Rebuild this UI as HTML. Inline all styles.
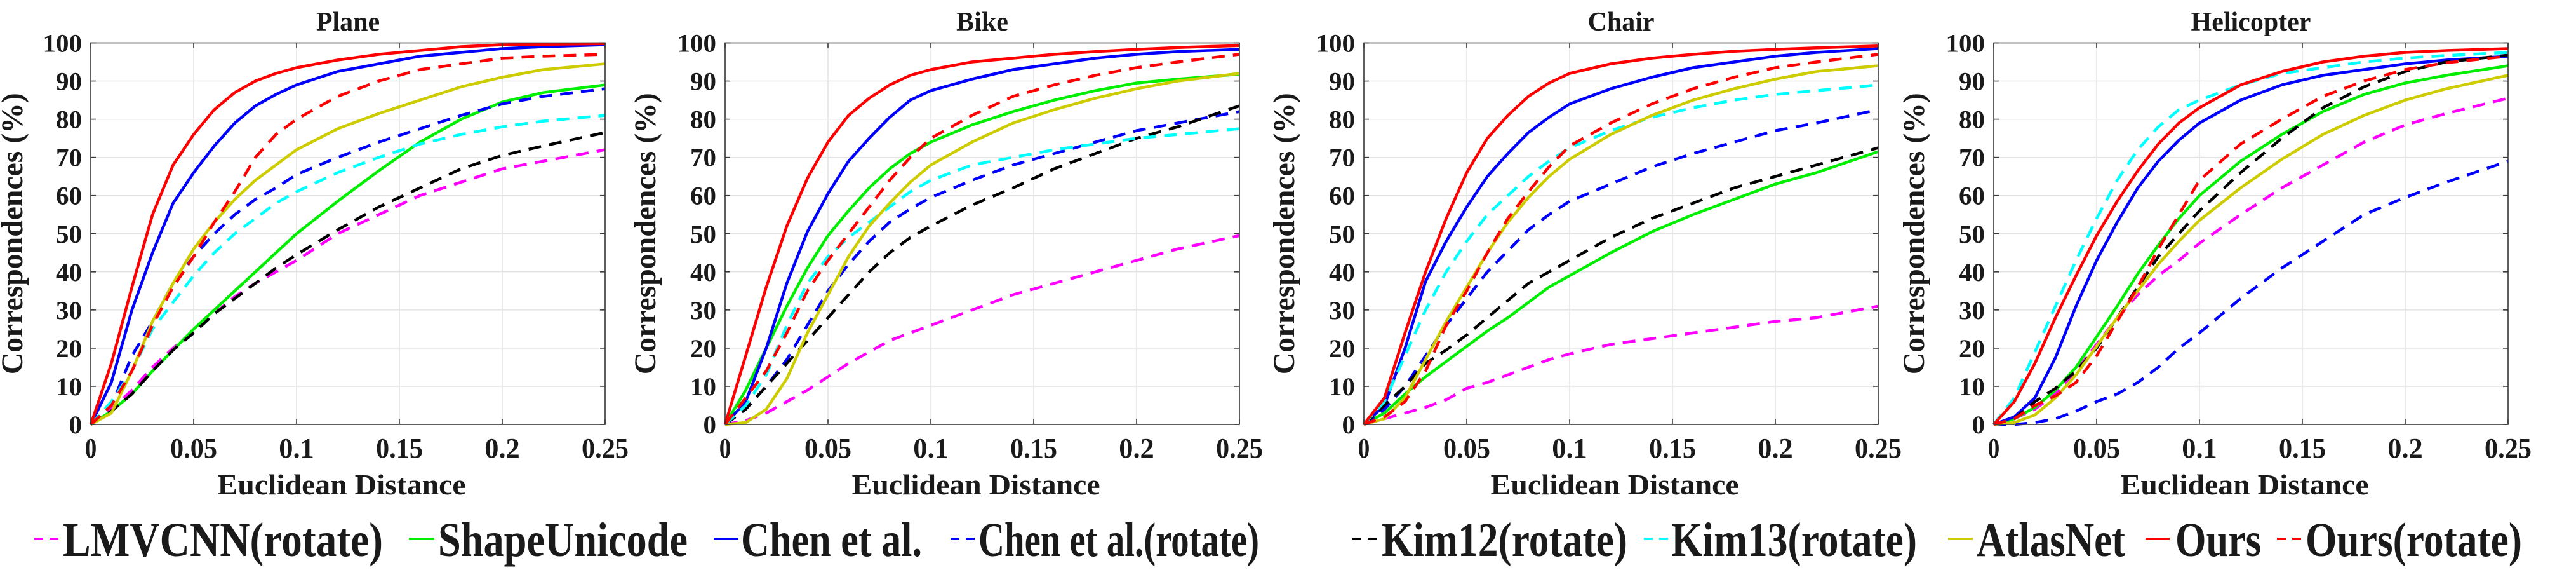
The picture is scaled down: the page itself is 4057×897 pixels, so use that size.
<!DOCTYPE html>
<html><head><meta charset="utf-8"><style>
html,body{margin:0;padding:0;background:#fff;}
svg{display:block;}
svg text{font-family:"Liberation Serif","Times New Roman",serif;font-weight:bold;fill:#1a1a1a;}
</style></head><body>
<svg id="fig" width="4057" height="897" viewBox="0 0 4057 897" xmlns="http://www.w3.org/2000/svg" font-family="Liberation Serif, serif" font-weight="bold"></svg>
<script>
const xVals=[0,0.01,0.02,0.03,0.04,0.05,0.06,0.07,0.08,0.09,0.10,0.12,0.14,0.16,0.18,0.20,0.22,0.25];
const xTicks=[0,0.05,0.1,0.15,0.2,0.25];
const xTickLabels=["0","0.05","0.1","0.15","0.2","0.25"];
const yTicks=[0,10,20,30,40,50,60,70,80,90,100];
const panelTitles=["Plane","Bike","Chair","Helicopter"];
const seriesNames=["LMVCNN(rotate)","ShapeUnicode","Chen et al.","Chen et al.(rotate)","Kim12(rotate)","Kim13(rotate)","AtlasNet","Ours","Ours(rotate)"];
const planeLMVCNN=[0,4,9,15,20,24.5,29,33.5,37,40,43,50,55,60,63.5,67,69,72];
const planeShape=[0,3.5,8,14,19.5,25,30,35,40,45,50,58.5,66.5,74,80,84.5,87,89];
const planeChen=[0,11,30,45,58,66,73,79,83.5,86.5,89,92.5,94.5,96.5,97.5,98.5,99,99.5];
const planeChenRot=[0,5,18,27,37,44,50,55,59,62,65.5,70,74,77.5,81,84,86,88];
const planeKim12=[0,3.5,8,14,19.5,24,29,33,37,41,44.5,51,57,62,67,70.5,73,76.5];
const planeKim13=[0,6,14,25,32,39,45,50,54,58,61,66,70,73.5,76,78,79.5,81];
const planeAtlas=[0,3,14,27,37,46,53,59,64,68,72,77.5,81.5,85,88.5,91,93,94.5];
const planeOurs=[0,16,36,55,68,76,82.5,87,90,92,93.5,95.5,97,98,99,99.5,99.6,99.8];
const planeOursRot=[0,5,14,26,36,44,53,61,70,76,80,86,90,93,94.5,96,96.5,97];
const bikeLMVCNN=[0,1,3,6,9,12.5,16,19,22,24,26,30,34,37,40,43,46,49.5];
const bikeShape=[0,9,20,31,41,49.5,56,62,67,71,74,78.5,82,85,87.5,89.5,90.5,91.8];
const bikeChen=[0,6,20,37,50.5,60.5,69,75,80.5,85,87.5,90.5,93,94.5,96,97,97.7,98.3];
const bikeChenRot=[0,4,10,17,26,35,42,48,53,56.5,59.5,64,68,71,74,77,79,82];
const bikeKim12=[0,4,10,16,22,28,34,40,45,49,52,57.5,62,67,71,75,78,83.5];
const bikeKim13=[0,5,13,26,37,44,49,53,57,61,64,68,70,72,73.5,75,76,77.5];
const bikeAtlas=[0,0.5,4,12,24,34,44,52,58,63.5,68,74,79,82.5,85.5,88,90,92];
const bikeOurs=[0,18,36,52,64.5,74,81,85.5,89,91.5,93,95,96,97,97.7,98.3,98.8,99.3];
const bikeOursRot=[0,7,14,24,35,43,50,57,64,70,75,81,86,89,91.5,93.5,95,97];
const chairLMVCNN=[0,1.5,3,4.5,6.5,9.5,11,13,15,17,18.5,21,22.5,24,25.5,27,28,31];
const chairShape=[0,3,8,12.5,16.5,20.5,24.5,28,32,36,39,45,50.5,55,59,63,66,71.5];
const chairChen=[0,5,20,37.5,48,57,65,71,76.5,80.5,84,88,91,93.5,95,96.5,97.5,98.5];
const chairChenRot=[0,4,10,18,26,33,40,45.5,51,55,58.5,63,67.5,71,74,77,79,82.5];
const chairKim12=[0,5,10,16,19.5,23.5,28,32.5,37,40,43,49,54,58,62,65,68,72.5];
const chairKim13=[0,6,18,30,40,48,55,60,65,69,72.5,77,80.5,83,85,86.5,87.5,89];
const chairAtlas=[0,1.5,7,17,27,36,45,53,59.5,65,69.5,76,81,85,88,90.5,92.5,94];
const chairOurs=[0,7,24,40,54,66,75,81,86,89.5,92,94.5,96,97,97.8,98.3,98.7,99.2];
const chairOursRot=[0,2,6,14,26,35,45,54,61,67.5,73,79,84,88,91,93.5,95,97];
const heliLMVCNN=[0,1.5,4,8,14,21,28,34,39,43,47.5,55,62,68,74,78.5,81.5,85.5];
const heliShape=[0,1.5,4.5,9,15,23,31,39.5,47,54,60,69,76,82,86.5,89.5,91.5,94];
const heliChen=[0,2,7,17.5,31,43,53,62,69,74.5,79,85,89,91.5,93,94.5,95.5,96.5];
const heliChenRot=[0,0,0.5,1.5,3.5,6,8,11,15,20,24,33,41,48,55,59.5,63.5,69];
const heliKim12=[0,1.5,6,9.5,14,20,28,36,44,50,56,66,75,83,88.5,92.5,95,96.8];
const heliKim13=[0,7,19,31,43,54,64,72,78,82.5,85,89,92,93.5,95,96,96.7,97.5];
const heliAtlas=[0,0.5,2.5,7,13,20.5,28,35,42,48,53.5,62,69.5,76,81,85,88,91.5];
const heliOurs=[0,6,16,28,39,49.5,58.5,66.5,73.5,79,83,89,92.5,95,96.5,97.5,98,98.5];
const heliOursRot=[0,1.5,5,7.5,11,18,27,36,46,55,64,73.5,80,86,90,93,94.8,96.5];

const panelData=[
 [planeLMVCNN,planeShape,planeChen,planeChenRot,planeKim12,planeKim13,planeAtlas,planeOurs,planeOursRot],
 [bikeLMVCNN,bikeShape,bikeChen,bikeChenRot,bikeKim12,bikeKim13,bikeAtlas,bikeOurs,bikeOursRot],
 [chairLMVCNN,chairShape,chairChen,chairChenRot,chairKim12,chairKim13,chairAtlas,chairOurs,chairOursRot],
 [heliLMVCNN,heliShape,heliChen,heliChenRot,heliKim12,heliKim13,heliAtlas,heliOurs,heliOursRot]
];
const colors=["#ff00ff","#00ee00","#0000ff","#0000ff","#000000","#00ffff","#cccc00","#ff0000","#ff0000"];
const dashed=[true,false,false,true,true,true,false,false,true];
const panelLeft=[143,1142,2148,3140];
const PW=810, PT=67.5, PB=668;
const NS="http://www.w3.org/2000/svg";
const FF="Liberation Serif, Times New Roman, serif";
const svg=document.getElementById('fig');
function mk(tag,attrs,parent){const e=document.createElementNS(NS,tag);for(const k in attrs)e.setAttribute(k,attrs[k]);if(tag==='text'){e.setAttribute('font-family',FF);e.setAttribute('font-weight','bold');}(parent||svg).appendChild(e);return e;}

panelTitles.forEach((title,p)=>{
  const L=panelLeft[p], R=L+PW;
  const sx=v=>L+v/0.25*PW;
  const sy=v=>PB-v/100*(PB-PT);
  const g=mk('g',{});
  
  
  mk('rect',{x:L,y:PT,width:PW,height:PB-PT,fill:'#fff'},g);
  xTicks.forEach(t=>{const l=mk('line',{x1:sx(t),x2:sx(t),y1:PT,y2:PB,stroke:'#e3e3e3','stroke-width':1.5},g);
    });
  yTicks.forEach(t=>{const l=mk('line',{x1:L,x2:R,y1:sy(t),y2:sy(t),stroke:'#e3e3e3','stroke-width':1.5},g);
    });
  panelData[p].forEach((vals,s)=>{
    const d=vals.map((v,i)=>(i?'L':'M')+sx(xVals[i]).toFixed(1)+','+sy(v).toFixed(1)).join('');
    const path=mk('path',{d:d,fill:'none',stroke:colors[s],'stroke-width':4.5,'stroke-linejoin':'round'},g);
    if(dashed[s])path.setAttribute('stroke-dasharray','20 13');
    
    
  });
  const box=mk('rect',{x:L,y:PT,width:PW,height:PB-PT,fill:'none',stroke:'#3a3a3a','stroke-width':1.6},g);
  
  xTicks.forEach((t,i)=>{
    mk('line',{x1:sx(t),x2:sx(t),y1:PB,y2:PB-8,stroke:'#3a3a3a','stroke-width':1.6},g);
    mk('line',{x1:sx(t),x2:sx(t),y1:PT,y2:PT+8,stroke:'#3a3a3a','stroke-width':1.6},g);
    const lab=xTickLabels[i];
    const tx=mk('text',{x:sx(t),y:720,'font-size':44,'text-anchor':'middle',textLength:lab.length*18.5,lengthAdjust:'spacingAndGlyphs'},g);
    tx.textContent=lab;
    
  });
  yTicks.forEach(t=>{
    mk('line',{x1:L,x2:L+8,y1:sy(t),y2:sy(t),stroke:'#3a3a3a','stroke-width':1.6},g);
    mk('line',{x1:R,x2:R-8,y1:sy(t),y2:sy(t),stroke:'#3a3a3a','stroke-width':1.6},g);
    const lab=String(t);
    const tx=mk('text',{x:L-14,y:sy(t)+14,'font-size':40,'text-anchor':'end',textLength:lab.length*20.5,lengthAdjust:'spacingAndGlyphs'},g);
    tx.textContent=lab;
    
  });
  const tt=mk('text',{x:L+PW/2,y:48,'font-size':42,'text-anchor':'middle'},g);
  tt.textContent=title;
  
  const xl=mk('text',{x:L+PW/2-10,y:778,'font-size':46,'text-anchor':'middle',textLength:391,lengthAdjust:'spacingAndGlyphs'},g);
  xl.textContent='Euclidean Distance';
  
  const yx=L-110+(p===0?2:0), yc=(PT+PB)/2;
  const yl=mk('text',{x:yx,y:yc,'font-size':48,'text-anchor':'middle',textLength:443,lengthAdjust:'spacingAndGlyphs',transform:'rotate(-90 '+yx+' '+yc+')'},g);
  yl.textContent='Correspondences (%)';
  
});

const legLine=[[54,94],[644,684],[1124,1163],[1497,1536],[2130,2171],[2589,2627],[3068,3107],[3379,3417],[3586,3625]];
const legText=[[99,504],[690,393],[1167,285],[1541,442],[2176,387],[2632,387],[3113,234],[3426,135],[3631,341]];
seriesNames.forEach((n,s)=>{
  const g=mk('g',{});
  
  
  const ln=mk('line',{x1:legLine[s][0],x2:legLine[s][1],y1:848,y2:848,stroke:colors[s],'stroke-width':4},g);
  if(dashed[s])ln.setAttribute('stroke-dasharray','14 10');
  const t=mk('text',{x:legText[s][0],y:875,'font-size':76,textLength:legText[s][1],lengthAdjust:'spacingAndGlyphs'},g);
  t.textContent=n;
});
</script>
</body></html>
